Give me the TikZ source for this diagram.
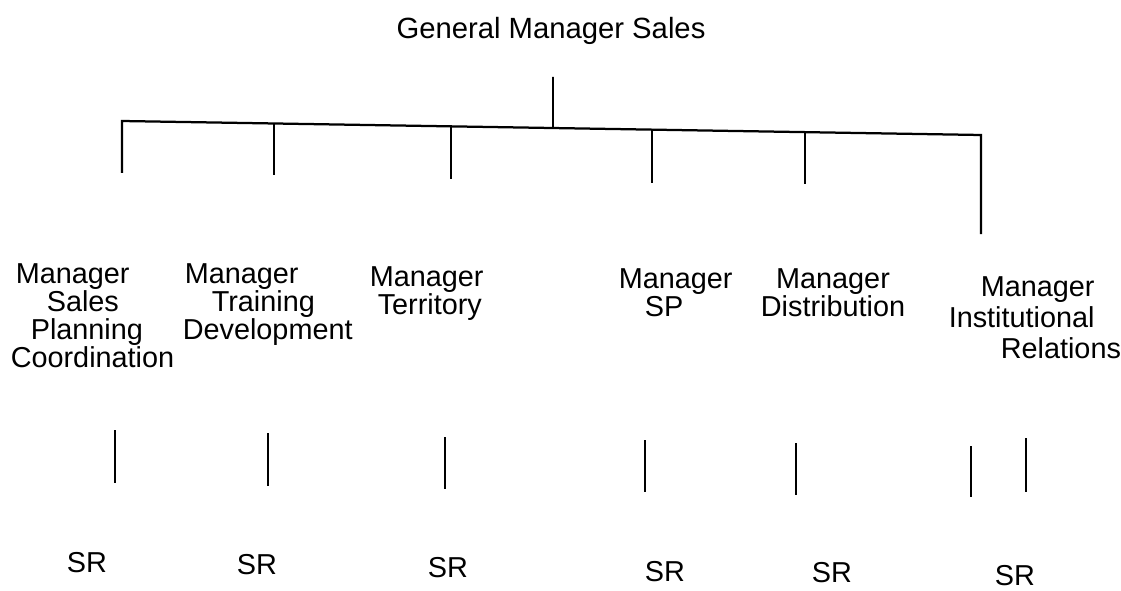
\documentclass[tikz,border=0pt]{standalone}
\usepackage{fontspec}
\setmainfont{Liberation Sans}
\usetikzlibrary{positioning, calc}

\begin{document}
\begin{tikzpicture}[
        x=0.025cm, y=-0.025cm,
        line width=1.1pt,
        title/.style={font=\fontsize{20.8}{20.8}\selectfont, inner sep=0pt},
        post/.style={font=\fontsize{20.5}{19.9}\selectfont, inner sep=0pt, align=left, anchor=north west},
        rep/.style={font=\fontsize{20.5}{20.5}\selectfont, inner sep=0pt, anchor=north},
        bus/.style={line width=1.6pt}
    ]
    \useasboundingbox (0,0) rectangle (1121,591);

    % head of the chart
    \node [title, anchor=base] (gms) at (551,39) {General Manager Sales};
    \coordinate (gms-end) at (553,77);
    \coordinate (bw) at (122,121);
    \coordinate (be) at (981,135);

    % managers
    \node [post] (spc) at (10,263)
        {\hspace*{1.25mm}Manager\\\hspace*{9mm}Sales\\\hspace*{5mm}Planning\\Coordination};
    \node [post] (mtd) at (182,263)
        {\hspace*{0.5mm}Manager\\\hspace*{7.25mm}Training\\Development};
    \node [post] (mt) at (369,266)
        {Manager\\\hspace*{2mm}Territory};
    \node [post] (msp) at (618,268) {Manager\\\hspace*{6.5mm}SP};
    \node [post, align=center, anchor=north] (md) at (833,268) {Manager\\Distribution};
    \node [post, font=\fontsize{20.5}{22}\selectfont] (mir) at (948,276)
        {\hspace*{8mm}Manager\\Institutional\\\hspace*{13mm}Relations};

    % tree lines
    \coordinate (spc-end) at (122,173);
    \coordinate (mir-end) at (981,234);
    \draw [bus] (spc-end) -- (bw) -- (be) -- (mir-end);
    \draw (gms-end) -- ($(bw)!{(553-122)/859}!(be)$);
    \foreach \n/\x/\yb in {mtd/274/175, mt/451/179, msp/652/183, md/805/184} {
        \coordinate (\n-end) at (\x,\yb);
        \draw (\n-end) -- ($(bw)!{(\x-122)/859}!(be)$);
    }

    % sales representatives
    \foreach \n/\x/\ya/\yb/\xs/\ys in {spc/115/430/483/87/552, mtd/268/433/486/257/554,
            mt/445/437/489/448/557, msp/645/440/492/665/561, md/796/443/495/832/562} {
        \coordinate (\n-a) at (\x,\ya);
        \coordinate (\n-b) at (\x,\yb);
        \draw (\n-a) -- (\n-b);
        \node [rep] (sr-\n) at (\xs,\ys) {SR};
    }
    \coordinate (mir-a) at (971,446);
    \coordinate (mir-b) at (971,497);
    \coordinate (mir-c) at (1026,438);
    \coordinate (mir-d) at (1026,492);
    \draw (mir-a) -- (mir-b);
    \draw (mir-c) -- (mir-d);
    \node [rep] (sr-mir) at (1015,565) {SR};
\end{tikzpicture}
\end{document}
